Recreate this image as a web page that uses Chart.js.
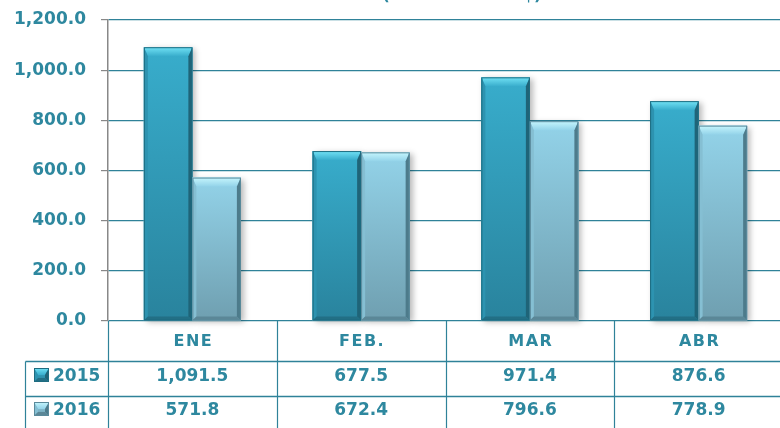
<!DOCTYPE html>
<html>
<head>
<meta charset="utf-8">
<script src="https://cdn.jsdelivr.net/npm/chart.js@4.4.1/dist/chart.umd.min.js"></script>
<style>
html,body{margin:0;padding:0;background:#fff;overflow:hidden;}
#wrap{width:783px;height:428px;}
</style>
</head>
<body>
<div id="wrap"><canvas id="c" width="783" height="428"></canvas></div>
<script>
const categories = ['ENE', 'FEB.', 'MAR', 'ABR'];
const seriesNames = ['2015', '2016'];
const values2015 = [1091.5, 677.5, 971.4, 876.6];
const values2016 = [571.8, 672.4, 796.6, 778.9];
const yTicks = [0, 200, 400, 600, 800, 1000, 1200];
const titleText = '(Millones de US$)';

const TEAL = '#2e889f';
const GRID = '#2f8299';
const FONT = '"DejaVu Sans", Verdana, sans-serif';

const palettes = [
  {top:'#38adcc', bottom:'#29839d', hi:'#72e2f5', right:'#1f6478', left:'#2d93b0', bot:'#226f85', border:'#1e6c80'},
  {top:'#93d3e9', bottom:'#6f9fb0', hi:'#c6f6fd', right:'#4d7b8b', left:'#85bfd3', bot:'#5b8797', border:'#5a8a9b'}
];

function fmt(v){
  return v.toLocaleString('en-US',{minimumFractionDigits:1, maximumFractionDigits:1});
}

function drawBevel(ctx, l, t, r, b, p){
  const w = r - l, h = b - t;
  if (h <= 0) return;
  const bv = Math.min(9, h/2), sv = 4;
  let g = ctx.createLinearGradient(0, t, 0, b);
  g.addColorStop(0, p.top); g.addColorStop(1, p.bottom);
  ctx.fillStyle = g; ctx.fillRect(l, t, w, h);
  g = ctx.createLinearGradient(0, t, 0, t + bv);
  g.addColorStop(0, p.hi); g.addColorStop(1, p.top);
  ctx.fillStyle = g;
  ctx.beginPath(); ctx.moveTo(l, t); ctx.lineTo(r, t); ctx.lineTo(r - sv, t + bv); ctx.lineTo(l + sv, t + bv); ctx.closePath(); ctx.fill();
  ctx.fillStyle = p.left;
  ctx.beginPath(); ctx.moveTo(l, t); ctx.lineTo(l + sv, t + bv); ctx.lineTo(l + sv, b - sv); ctx.lineTo(l, b); ctx.closePath(); ctx.fill();
  ctx.fillStyle = p.right;
  ctx.beginPath(); ctx.moveTo(r, t); ctx.lineTo(r - sv, t + bv); ctx.lineTo(r - sv, b - sv); ctx.lineTo(r, b); ctx.closePath(); ctx.fill();
  ctx.fillStyle = p.bot;
  ctx.beginPath(); ctx.moveTo(l, b); ctx.lineTo(l + sv, b - sv); ctx.lineTo(r - sv, b - sv); ctx.lineTo(r, b); ctx.closePath(); ctx.fill();
  ctx.strokeStyle = p.border; ctx.lineWidth = 1;
  ctx.strokeRect(l + 0.5, t + 0.5, w - 1, h - 1);
}

const bevelPlugin = {
  id: 'bevel',
  beforeDatasetsDraw(chart){
    const ctx = chart.ctx;
    chart.data.datasets.forEach((ds, i) => {
      const meta = chart.getDatasetMeta(i);
      meta.data.forEach(el => {
        const l = el.x - el.width/2, r = el.x + el.width/2;
        ctx.save();
        ctx.shadowColor = 'rgba(0,0,0,0.28)';
        ctx.shadowBlur = 6; ctx.shadowOffsetX = 3; ctx.shadowOffsetY = 2;
        ctx.fillStyle = '#ffffff';
        ctx.fillRect(l, el.y, r - l, el.base - el.y);
        ctx.restore();
      });
    });
  },
  afterDatasetsDraw(chart){
    const ctx = chart.ctx;
    chart.data.datasets.forEach((ds, i) => {
      const meta = chart.getDatasetMeta(i);
      meta.data.forEach(el => {
        const l = el.x - el.width/2, r = el.x + el.width/2;
        ctx.save();
        drawBevel(ctx, l, el.y, r, el.base, palettes[i]);
        ctx.restore();
      });
    });
  },
  afterDraw(chart){
    const ctx = chart.ctx;
    const area = chart.chartArea;
    const xs = chart.scales.x;
    const n = categories.length;
    const band = (area.right - area.left) / n;
    const top = area.bottom;
    const r1 = 361.5, r2 = 396.5, bottom = 430;
    const legendLeft = 25.5;
    ctx.save();
    ctx.strokeStyle = GRID; ctx.lineWidth = 1.2;
    for (let i = 0; i < n; i++){
      const x = Math.round(area.left + band*i) + 0.5;
      ctx.beginPath(); ctx.moveTo(x, top); ctx.lineTo(x, bottom); ctx.stroke();
    }
    ctx.beginPath(); ctx.moveTo(legendLeft, r1); ctx.lineTo(legendLeft, bottom); ctx.stroke();
    ctx.lineWidth = 1.6;
    [r1, r2].forEach(y => {
      ctx.beginPath(); ctx.moveTo(legendLeft, y); ctx.lineTo(area.right + 5, y); ctx.stroke();
    });
    ctx.fillStyle = TEAL;
    ctx.textAlign = 'center'; ctx.textBaseline = 'middle';
    ctx.font = 'bold 16px ' + FONT;
    try { ctx.letterSpacing = '1.5px'; } catch(e) {}
    categories.forEach((c, i) => {
      ctx.fillText(c, xs.getPixelForValue(i) + 1, 342);
    });
    try { ctx.letterSpacing = '0px'; } catch(e) {}
    ctx.font = 'bold 17px ' + FONT;
    const rows = [values2015, values2016];
    const rowY = [377, 411];
    rows.forEach((vals, ri) => {
      vals.forEach((v, i) => {
        ctx.fillText(fmt(v), xs.getPixelForValue(i), rowY[ri]);
      });
      drawBevel(ctx, 34, rowY[ri] - 9, 49, rowY[ri] + 5, palettes[ri]);
      ctx.fillStyle = TEAL;
      ctx.textAlign = 'left';
      ctx.fillText(seriesNames[ri], 53, rowY[ri]);
      ctx.textAlign = 'center';
    });
    ctx.font = 'bold 16px ' + FONT;
    ctx.textBaseline = 'alphabetic';
    ctx.fillText(titleText, 462, 0);
    ctx.restore();
  }
};

new Chart(document.getElementById('c'), {
  type: 'bar',
  data: {
    labels: categories,
    datasets: [
      {label: seriesNames[0], data: values2015, backgroundColor: palettes[0].top, borderWidth: 0},
      {label: seriesNames[1], data: values2016, backgroundColor: palettes[1].top, borderWidth: 0}
    ]
  },
  options: {
    responsive: false,
    animation: false,
    devicePixelRatio: 1,
    layout: {padding: {top: 20, bottom: 107, left: 0, right: 0}},
    datasets: {bar: {categoryPercentage: 0.575, barPercentage: 1.0}},
    plugins: {legend: {display: false}, tooltip: {enabled: false}, title: {display: false}},
    scales: {
      x: {display: false},
      y: {
        min: 0, max: 1200,
        afterBuildTicks(scale){ scale.ticks = yTicks.map(v => ({value: v})); },
        afterFit(scale){ scale.width = 108; scale.paddingTop = 0; scale.paddingBottom = 0; },
        ticks: {
          padding: 15,
          color: TEAL,
          font: {family: FONT, size: 17, weight: 'bold'},
          callback: v => fmt(v)
        },
        grid: {color: GRID, lineWidth: 1.2, tickColor: '#888888', tickLength: 7, drawTicks: true},
        border: {color: '#888888', width: 1.5}
      }
    }
  },
  plugins: [bevelPlugin]
});
</script>
</body>
</html>
